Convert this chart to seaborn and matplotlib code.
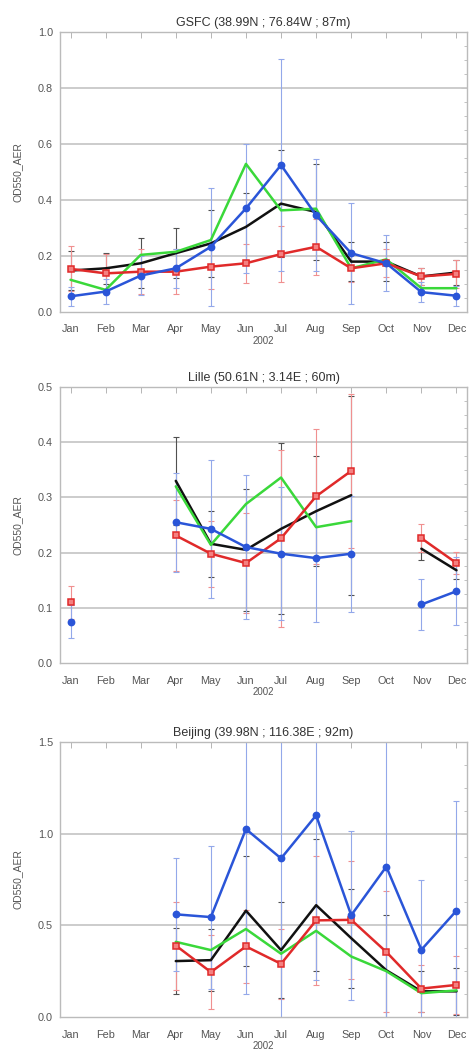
import numpy as np
import pandas as pd
import matplotlib
matplotlib.use("Agg")
import matplotlib.pyplot as plt
from matplotlib.ticker import AutoMinorLocator
import seaborn as sns

nan = np.nan
months = ["Jan", "Feb", "Mar", "Apr", "May", "Jun", "Jul", "Aug", "Sep", "Oct", "Nov", "Dec"]
year_label = "2002"
ylabel = "OD550_AER"

# ---- GSFC ----
gsfc_title = "GSFC (38.99N ; 76.84W ; 87m)"
gsfc_blue = [0.056, 0.073, 0.13, 0.156, 0.233, 0.37, 0.525, 0.345, 0.21, 0.174, 0.071, 0.058]
gsfc_red = [0.154, 0.138, 0.144, 0.144, 0.162, 0.174, 0.207, 0.233, 0.156, 0.174, 0.127, 0.136]
gsfc_green = [0.115, 0.079, 0.204, 0.215, 0.257, 0.529, 0.363, 0.369, 0.156, 0.188, 0.085, 0.085]
gsfc_black = [0.148, 0.156, 0.174, 0.21, 0.245, 0.304, 0.387, 0.357, 0.18, 0.18, 0.127, 0.141]
gsfc_blue_err = [0.035, 0.045, 0.07, 0.07, 0.21, 0.23, 0.38, 0.2, 0.18, 0.1, 0.035, 0.035]
gsfc_red_err = [0.08, 0.07, 0.08, 0.08, 0.08, 0.07, 0.1, 0.1, 0.05, 0.05, 0.03, 0.05]
gsfc_black_err = [0.07, 0.055, 0.09, 0.09, 0.12, 0.12, 0.19, 0.17, 0.07, 0.07, 0.03, 0.045]

# ---- Lille ----
lille_title = "Lille (50.61N ; 3.14E ; 60m)"
lille_blue = [0.075, nan, nan, 0.255, 0.243, 0.21, 0.198, 0.19, 0.198, nan, 0.106, 0.13]
lille_red = [0.11, nan, nan, 0.231, 0.198, 0.181, 0.226, 0.302, 0.348, nan, 0.226, 0.181]
lille_green = [nan, nan, nan, 0.32, 0.214, 0.288, 0.336, 0.246, 0.257, nan, nan, nan]
lille_black = [nan, nan, nan, 0.33, 0.216, 0.205, 0.243, 0.275, 0.304, nan, 0.207, 0.168]
lille_blue_err = [0.03, nan, nan, 0.09, 0.125, 0.13, 0.12, 0.115, 0.105, nan, 0.047, 0.062]
lille_red_err = [0.03, nan, nan, 0.065, 0.06, 0.09, 0.16, 0.122, 0.14, nan, 0.025, 0.02]
lille_black_err = [nan, nan, nan, 0.08, 0.06, 0.11, 0.155, 0.1, 0.18, nan, 0.02, 0.015]

# ---- Beijing ----
beijing_title = "Beijing (39.98N ; 116.38E ; 92m)"
beijing_blue = [nan, nan, nan, 0.56, 0.545, 1.025, 0.865, 1.10, 0.555, 0.82, 0.367, 0.58]
beijing_red = [nan, nan, nan, 0.39, 0.245, 0.385, 0.29, 0.527, 0.53, 0.355, 0.155, 0.175]
beijing_green = [nan, nan, nan, 0.41, 0.365, 0.48, 0.345, 0.47, 0.33, 0.25, 0.13, 0.145]
beijing_black = [nan, nan, nan, 0.305, 0.31, 0.58, 0.365, 0.61, 0.43, 0.255, 0.14, 0.14]
beijing_blue_err = [nan, nan, nan, 0.31, 0.39, 0.9, 0.9, 0.9, 0.46, 0.85, 0.38, 0.6]
beijing_red_err = [nan, nan, nan, 0.24, 0.2, 0.2, 0.19, 0.35, 0.32, 0.33, 0.13, 0.16]
beijing_black_err = [nan, nan, nan, 0.18, 0.17, 0.3, 0.26, 0.36, 0.27, 0.3, 0.11, 0.13]

panels = [
    dict(title=gsfc_title, blue=gsfc_blue, red=gsfc_red, green=gsfc_green, black=gsfc_black,
         blue_err=gsfc_blue_err, red_err=gsfc_red_err, black_err=gsfc_black_err,
         ymax=1.0, major=0.2),
    dict(title=lille_title, blue=lille_blue, red=lille_red, green=lille_green, black=lille_black,
         blue_err=lille_blue_err, red_err=lille_red_err, black_err=lille_black_err,
         ymax=0.5, major=0.1),
    dict(title=beijing_title, blue=beijing_blue, red=beijing_red, green=beijing_green, black=beijing_black,
         blue_err=beijing_blue_err, red_err=beijing_red_err, black_err=beijing_black_err,
         ymax=1.5, major=0.5),
]

sns.set_theme(style="white")
plt.rcParams["font.family"] = ["Liberation Sans", "DejaVu Sans"]

W, H = 470, 1055
fig = plt.figure(figsize=(W / 100, H / 100), dpi=100)

boxes = [(32, 312), (387, 663), (742, 1017)]
left_px, right_px = 60, 467

BLUE = "#2a55d8"
RED = "#e02a2a"
GREEN = "#3ad83a"
BLACK = "#111111"
ERR = {"blue": "#93a8ea", "red": "#f09090", "black": "#505050"}
GRID = "#c8c8c8"
TXT = "#555555"


def segments(vals):
    seg = []
    s = 0
    prev_nan = True
    for v in vals:
        if np.isnan(v):
            seg.append(-1)
            prev_nan = True
        else:
            if prev_nan:
                s += 1
            seg.append(s)
            prev_nan = False
    return seg


x = np.arange(12)
for p, (top, bot) in zip(panels, boxes):
    ax = fig.add_axes([left_px / W, 1 - bot / H, (right_px - left_px) / W, (bot - top) / H])

    for key in ["black", "red", "blue"]:
        y = np.array(p[key], dtype=float)
        e = np.array(p[key + "_err"], dtype=float)
        m = ~np.isnan(y) & ~np.isnan(e)
        ax.errorbar(x[m], y[m], yerr=e[m], fmt="none", ecolor=ERR[key],
                    elinewidth=0.8, capsize=2.0, capthick=0.8, zorder=2)

    for key, color, marker, msize in [("black", BLACK, None, 0),
                                      ("green", GREEN, None, 0),
                                      ("red", RED, "s", 5),
                                      ("blue", BLUE, "o", 4.5)]:
        vals = np.array(p[key], dtype=float)
        df = pd.DataFrame({"x": x, "y": vals, "seg": segments(vals)})
        df = df[df["seg"] >= 0]
        kw = {}
        if marker:
            kw = dict(marker=marker, markersize=msize, markeredgecolor=color,
                      markerfacecolor=(color if key == "blue" else "#f48080"),
                      markeredgewidth=1.1)
        sns.lineplot(data=df, x="x", y="y", units="seg", estimator=None, color=color,
                     linewidth=1.8, ax=ax, legend=False, zorder=3, **kw)

    ax.set_xlim(-0.3, 11.3)
    ax.set_ylim(0, p["ymax"])
    ticks = np.arange(0, p["ymax"] + 1e-9, p["major"])
    ax.set_yticks(ticks)
    ax.set_yticklabels(["{:.1f}".format(t) for t in ticks])
    ax.yaxis.set_minor_locator(AutoMinorLocator(4))
    for t in ticks[1:]:
        ax.axhline(t, color=GRID, lw=1.3, zorder=1)
    ax.set_xticks(x)
    ax.set_xticklabels(months)
    ax.tick_params(axis="both", which="both", direction="in", top=True, right=True,
                   labelsize=7.8, colors="#aaaaaa", labelcolor=TXT)
    ax.tick_params(axis="both", which="major", length=4, width=0.6)
    ax.tick_params(axis="y", which="minor", length=2.5, width=0.5)
    ax.tick_params(axis="x", pad=9)
    ax.tick_params(axis="y", pad=5)
    ax.set_xlabel(year_label, fontsize=7, color=TXT, labelpad=1)
    ax.set_ylabel(ylabel, fontsize=7.5, color=TXT, labelpad=11)
    ax.set_title(p["title"], fontsize=9, color="#333333", pad=4)
    for sp in ax.spines.values():
        sp.set_color("#bbbbbb")
        sp.set_linewidth(1.0)

fig.savefig("out.png", dpi=100)
